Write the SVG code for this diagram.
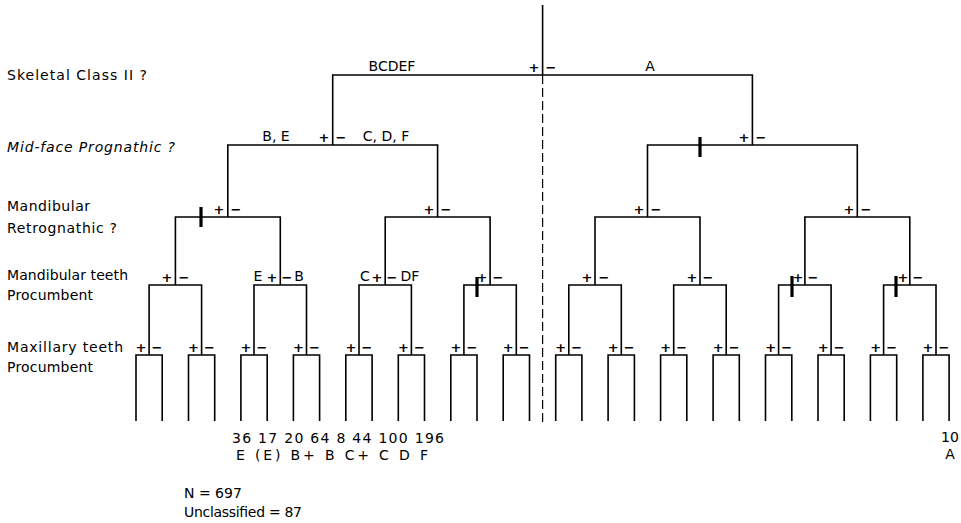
<svg xmlns="http://www.w3.org/2000/svg" width="961" height="523" viewBox="0 0 961 523">
<style>
text{font-family:"DejaVu Sans","Liberation Sans",sans-serif;fill:#000}
.lbl{font-size:14px}
.it{font-style:italic}
.s{font-size:13px;font-weight:bold;text-anchor:middle}
.t{font-size:14px;text-anchor:middle}
.ln{fill:none;stroke:#000;stroke-width:1.6}
.tick{fill:none;stroke:#000;stroke-width:3.2}
.dash{fill:none;stroke:#000;stroke-width:1.2;stroke-dasharray:9 4}
</style>
<rect width="961" height="523" fill="#fff"/>

<g id="level-labels">
<text class="lbl" x="7" y="80" textLength="140" lengthAdjust="spacing">Skeletal Class II  ?</text>
<text class="lbl it" x="7" y="152" textLength="168" lengthAdjust="spacing">Mid-face Prognathic ?</text>
<text class="lbl" x="7" y="211" textLength="83" lengthAdjust="spacing">Mandibular</text>
<text class="lbl" x="7" y="233" textLength="110" lengthAdjust="spacing">Retrognathic  ?</text>
<text class="lbl" x="7" y="280" textLength="121" lengthAdjust="spacing">Mandibular teeth</text>
<text class="lbl" x="7" y="300" textLength="86" lengthAdjust="spacing">Procumbent</text>
<text class="lbl" x="7" y="352" textLength="116" lengthAdjust="spacing">Maxillary teeth</text>
<text class="lbl" x="7" y="372" textLength="86" lengthAdjust="spacing">Procumbent</text>
</g>

<g id="connectors">
<path class="dash" d="M542.6 75V425"/>
<path class="ln" d="M542.6 5V75M332.7 145V75H752.4V145"/>
<path class="ln" d="M227.8 217V145H437.6V217M647.5 217V145H857.3V217"/>
<path class="ln" d="M175.4 285V217H280.3V285M385.2 285V217H490.1V285M595 285V217H700V285M804.9 285V217H909.8V285"/>
<path class="ln" d="M149.1 355V285H201.6V355M254 355V285H306.5V355M359 355V285H411.4V355M463.9 355V285H516.3V355M568.8 355V285H621.3V355M673.7 355V285H726.2V355M778.6 355V285H831.1V355M883.6 355V285H936V355"/>
<path class="ln" d="M136 421V355H162.2V421M188.5 421V355H214.7V421M240.9 421V355H267.2V421M293.4 421V355H319.6V421M345.8 421V355H372.1V421M398.3 421V355H424.5V421M450.8 421V355H477V421M503.2 421V355H529.5V421M555.7 421V355H581.9V421M608.1 421V355H634.4V421M660.6 421V355H686.8V421M713.1 421V355H739.3V421M765.5 421V355H791.8V421M818 421V355H844.2V421M870.4 421V355H896.7V421M922.9 421V355H949.1V421"/>
<path class="tick" d="M700 137V157M201 207V227M477 277V297M792 276V297M896 276V297"/>
</g>

<g id="n-root">
<text class="s" x="534" y="72">+</text><text class="s" x="551" y="72">−</text>
<text class="t" x="392" y="71">BCDEF</text>
<text class="t" x="650" y="71">A</text>
</g>
<g id="n-2a">
<text class="s" x="324" y="142">+</text><text class="s" x="341" y="142">−</text>
<text class="t" x="276" y="141">B, E</text>
<text class="t" x="386" y="141">C, D, F</text>
</g>
<g id="n-2b"><text class="s" x="744" y="142">+</text><text class="s" x="761" y="142">−</text></g>
<g id="n-3a"><text class="s" x="219" y="214">+</text><text class="s" x="236" y="214">−</text></g>
<g id="n-3b"><text class="s" x="429" y="214">+</text><text class="s" x="446" y="214">−</text></g>
<g id="n-3c"><text class="s" x="639" y="214">+</text><text class="s" x="656" y="214">−</text></g>
<g id="n-3d"><text class="s" x="849" y="214">+</text><text class="s" x="866" y="214">−</text></g>
<g id="n-4a"><text class="s" x="167" y="282">+</text><text class="s" x="184" y="282">−</text></g>
<g id="n-4b">
<text class="t" x="258" y="281">E</text><text class="s" x="272" y="282">+</text>
<text class="s" x="287" y="282">−</text><text class="t" x="299" y="281">B</text>
</g>
<g id="n-4c">
<text class="t" x="365" y="281">C</text><text class="s" x="377" y="282">+</text>
<text class="s" x="392" y="282">−</text><text class="t" x="410" y="281">DF</text>
</g>
<g id="n-4d"><text class="s" x="482" y="282">+</text><text class="s" x="498" y="282">−</text></g>
<g id="n-4e"><text class="s" x="587" y="282">+</text><text class="s" x="604" y="282">−</text></g>
<g id="n-4f"><text class="s" x="692" y="282">+</text><text class="s" x="708" y="282">−</text></g>
<g id="n-4g"><text class="s" x="798" y="282">+</text><text class="s" x="813" y="282">−</text></g>
<g id="n-4h"><text class="s" x="903" y="282">+</text><text class="s" x="918" y="282">−</text></g>

<g id="n-5">
<text class="s" x="141" y="352">+</text><text class="s" x="157" y="352">−</text>
<text class="s" x="193.5" y="352">+</text><text class="s" x="209.5" y="352">−</text>
<text class="s" x="246" y="352">+</text><text class="s" x="262" y="352">−</text>
<text class="s" x="298.5" y="352">+</text><text class="s" x="314.5" y="352">−</text>
<text class="s" x="351" y="352">+</text><text class="s" x="367" y="352">−</text>
<text class="s" x="403.4" y="352">+</text><text class="s" x="419.4" y="352">−</text>
<text class="s" x="455.9" y="352">+</text><text class="s" x="471.9" y="352">−</text>
<text class="s" x="508.3" y="352">+</text><text class="s" x="524.3" y="352">−</text>
<text class="s" x="560.8" y="352">+</text><text class="s" x="576.8" y="352">−</text>
<text class="s" x="613.3" y="352">+</text><text class="s" x="629.3" y="352">−</text>
<text class="s" x="665.7" y="352">+</text><text class="s" x="681.7" y="352">−</text>
<text class="s" x="718.2" y="352">+</text><text class="s" x="734.2" y="352">−</text>
<text class="s" x="770.6" y="352">+</text><text class="s" x="786.6" y="352">−</text>
<text class="s" x="823.1" y="352">+</text><text class="s" x="839.1" y="352">−</text>
<text class="s" x="875.6" y="352">+</text><text class="s" x="891.6" y="352">−</text>
<text class="s" x="928" y="352">+</text><text class="s" x="944" y="352">−</text>
</g>

<g id="leaf-counts">
<text class="lbl" x="232" y="443" textLength="212" lengthAdjust="spacing">36 17 20 64 8 44 100 196</text>
<text class="lbl" x="236" y="460" textLength="192" lengthAdjust="spacing">E (E) B+ B C+ C D F</text>
<text class="t" x="950" y="442">10</text>
<text class="t" x="950" y="459">A</text>
</g>

<g id="totals">
<text class="lbl" x="184" y="498">N = 697</text>
<text class="lbl" x="184" y="517" textLength="118" lengthAdjust="spacing">Unclassified = 87</text>
</g>
</svg>
